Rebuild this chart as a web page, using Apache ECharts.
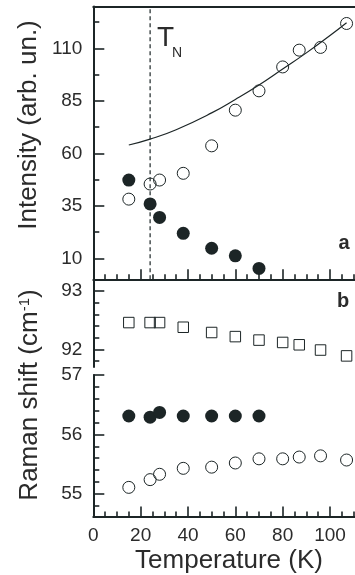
<!DOCTYPE html>
<html><head><meta charset="utf-8">
<script src="https://cdn.jsdelivr.net/npm/echarts@6/dist/echarts.min.js"></script>
<style>html,body{margin:0;padding:0;background:#fff}#c{width:355px;height:575px}</style>
</head><body><div id="c"></div>
<script>
// ---- data ----
const temps = [15, 24, 28, 38, 50, 60, 70, 80, 87, 96, 107];
const intensityOpen = [38.2, 45.4, 47.3, 50.5, 63.6, 80.6, 89.8, 101.2, 109.2, 110.5, 121.9];
const tempsFilled = [15, 24, 28, 38, 50, 60, 70];
const intensityFilled = [47.3, 35.9, 29.5, 21.9, 14.8, 11.2, 5.2];
const fitTemps = [15, 24, 35, 50, 60, 70, 80, 90, 100, 107];
const fitIntensity = [64.0, 66.8, 71.3, 79.3, 85.7, 92.6, 100.2, 107.9, 116.2, 122.3];
const TN = 24;
const shiftSquares = [92.46, 92.46, 92.46, 92.38, 92.29, 92.22, 92.16, 92.12, 92.08, 91.99, 91.89];
const shiftFilled = [56.31, 56.29, 56.37, 56.31, 56.31, 56.31, 56.31];
const shiftOpen = [55.11, 55.24, 55.33, 55.43, 55.45, 55.52, 55.59, 55.59, 55.62, 55.64, 55.57];
const xMajor = [0, 20, 40, 60, 80, 100];
const xMinor = [5, 10, 15, 25, 30, 35, 45, 50, 55, 65, 70, 75, 85, 90, 95, 105, 110];
const intMajor = [10, 35, 60, 85, 110];
const intMinor = [22.5, 47.5, 72.5, 97.5, 122.5];
const hiMajor = [92, 93];
const hiMinor = [91.8, 92.2, 92.4, 92.6, 92.8];
const loMajor = [55, 56, 57];
const loMinor = [54.8, 55.2, 55.4, 55.6, 55.8, 56.2, 56.4, 56.6, 56.8];

// ---- style ----
const INK = '#1c2526';
const TXT = '#2b2b2b';
const FONT = '"Liberation Sans", Arial, sans-serif';
const X_MIN = 0, X_MAX = 110.56;
const L = 93.3, W = 261.7;

function zip(a, b) { return a.map((v, i) => [v, b[i]]); }

function xAx(grid, pos, ticks, len, lineShow, labels) {
  return {
    type: 'value', gridIndex: grid, position: pos, min: X_MIN, max: X_MAX,
    axisLine: { show: lineShow, onZero: false, lineStyle: { color: INK, width: 2 } },
    axisTick: { show: ticks.length > 0, inside: true, length: len, customValues: ticks, lineStyle: { color: INK, width: 1.6 } },
    axisLabel: labels ? { show: true, customValues: labels, margin: 10, fontSize: 19, color: TXT, fontFamily: FONT } : { show: false },
    splitLine: { show: false }
  };
}
function yAx(grid, min, max, ticks, len, lineShow, labels) {
  return {
    type: 'value', gridIndex: grid, position: 'left', min: min, max: max,
    axisLine: { show: lineShow, onZero: false, lineStyle: { color: INK, width: 2 } },
    axisTick: { show: true, inside: true, length: len, customValues: ticks, lineStyle: { color: INK, width: 1.6 } },
    axisLabel: labels ? { show: true, customValues: labels, margin: 11, fontSize: 19, color: TXT, fontFamily: FONT } : { show: false },
    splitLine: { show: false }
  };
}

const openStyle = { color: 'rgba(255,255,255,0)', borderColor: INK, borderWidth: 1, opacity: 1 };
const fillStyle = { color: INK, opacity: 1 };

const option = {
  animation: false,
  backgroundColor: '#fff',
  grid: [
    { left: L, top: 6.5, width: W, height: 272.8, outerBoundsMode: 'none' },
    { left: L, top: 279.3, width: W, height: 87.7, outerBoundsMode: 'none' },
    { left: L, top: 375, width: W, height: 141.5, outerBoundsMode: 'none' }
  ],
  xAxis: [
    xAx(0, 'bottom', xMajor, 10, true, null),
    xAx(0, 'bottom', xMinor, 5, false, null),
    xAx(0, 'top', [], 0, true, null),
    Object.assign(xAx(1, 'bottom', [], 0, false, null), { show: false }),
    xAx(2, 'bottom', xMajor, 10, true, xMajor),
    xAx(2, 'bottom', xMinor, 5, false, null)
  ],
  yAxis: [
    yAx(0, 0, 130, intMajor, 11, true, intMajor),
    yAx(0, 0, 130, intMinor, 6, false, null),
    yAx(1, 91.7, 93.2, hiMajor, 11, true, hiMajor),
    yAx(1, 91.7, 93.2, hiMinor, 6, false, null),
    yAx(2, 54.62, 57, loMajor, 11, true, loMajor),
    yAx(2, 54.62, 57, loMinor, 6, false, null)
  ],
  series: [
    { type: 'line', xAxisIndex: 0, yAxisIndex: 0, data: [[TN, 0], [TN, 130]], showSymbol: false, symbol: 'none',
      lineStyle: { color: INK, width: 1.2, type: [4, 3] }, z: 1 },
    { type: 'line', xAxisIndex: 0, yAxisIndex: 0, data: zip(fitTemps, fitIntensity), showSymbol: false, symbol: 'none', smooth: true,
      lineStyle: { color: INK, width: 1.2 }, z: 2 },
    { type: 'scatter', xAxisIndex: 0, yAxisIndex: 0, data: zip(temps, intensityOpen), symbol: 'circle', symbolSize: 12, itemStyle: openStyle, z: 3 },
    { type: 'scatter', xAxisIndex: 0, yAxisIndex: 0, data: zip(tempsFilled, intensityFilled), symbol: 'circle', symbolSize: 13, itemStyle: fillStyle, z: 4 },
    { type: 'scatter', xAxisIndex: 3, yAxisIndex: 2, data: zip(temps, shiftSquares), symbol: 'rect', symbolSize: 10.5, itemStyle: openStyle, z: 3 },
    { type: 'scatter', xAxisIndex: 4, yAxisIndex: 4, data: zip(tempsFilled, shiftFilled), symbol: 'circle', symbolSize: 13, itemStyle: fillStyle, z: 4 },
    { type: 'scatter', xAxisIndex: 4, yAxisIndex: 4, data: zip(temps, shiftOpen), symbol: 'circle', symbolSize: 12, itemStyle: openStyle, z: 3 }
  ],
  graphic: [
    { type: 'text', x: 29, y: 125, rotation: Math.PI / 2,
      style: { text: 'Intensity (arb. un.)', fill: TXT, font: '26px ' + FONT, textAlign: 'center', textVerticalAlign: 'middle' } },
    { type: 'text', x: 30, y: 395, rotation: Math.PI / 2,
      style: { text: '{m|Raman shift (cm}{s|-1}{m|)}', fill: TXT, textAlign: 'center', textVerticalAlign: 'middle',
        rich: { m: { fontSize: 26, fontFamily: FONT, fill: TXT, verticalAlign: 'bottom' },
                s: { fontSize: 15, fontFamily: FONT, fill: TXT, verticalAlign: 'top' } } } },
    { type: 'text', x: 229, y: 561,
      style: { text: 'Temperature (K)', fill: TXT, font: '26px ' + FONT, textAlign: 'center', textVerticalAlign: 'middle' } },
    { type: 'text', x: 157, y: 38,
      style: { text: 'T', fill: TXT, font: '28px ' + FONT, textAlign: 'left', textVerticalAlign: 'middle' } },
    { type: 'text', x: 172, y: 53,
      style: { text: 'N', fill: TXT, font: '14px ' + FONT, textAlign: 'left', textVerticalAlign: 'middle' } },
    { type: 'text', x: 344, y: 243,
      style: { text: 'a', fill: TXT, font: 'bold 20px ' + FONT, textAlign: 'center', textVerticalAlign: 'middle' } },
    { type: 'text', x: 343, y: 301,
      style: { text: 'b', fill: TXT, font: 'bold 20px ' + FONT, textAlign: 'center', textVerticalAlign: 'middle' } }
  ]
};
const chart = echarts.init(document.getElementById('c'), null, { renderer: 'canvas' });
chart.setOption(option);
</script>
</body></html>
